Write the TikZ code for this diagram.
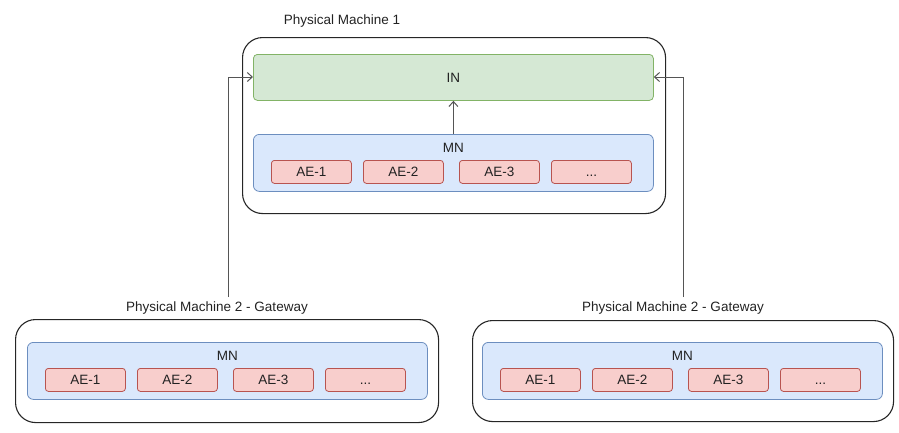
\documentclass[tikz,border=0pt]{standalone}
\usepackage{fontspec}
\setmainfont{Liberation Sans}
\usetikzlibrary{arrows.meta,positioning}
\definecolor{txt}{HTML}{222222}
\definecolor{ingreen}{HTML}{D5E8D4}
\definecolor{ingreenb}{HTML}{82B366}
\definecolor{mnblue}{HTML}{DAE8FC}
\definecolor{mnblueb}{HTML}{6C8EBF}
\definecolor{aered}{HTML}{F8CECC}
\definecolor{aeredb}{HTML}{B85450}
\definecolor{linec}{HTML}{555555}
\tikzset{
  machine/.style={draw=black!85, line width=1.1pt, rounded corners=20pt, anchor=north west, inner sep=0pt},
  inbox/.style={draw=ingreenb, fill=ingreen, line width=0.8pt, rounded corners=4pt, anchor=north west, inner sep=0pt, minimum width=400pt, minimum height=46pt},
  mnbox/.style={draw=mnblueb, fill=mnblue, line width=0.8pt, rounded corners=6pt, anchor=north west, inner sep=0pt, minimum width=400pt, minimum height=57pt},
  aebox/.style={draw=aeredb, fill=aered, line width=0.8pt, rounded corners=3pt, anchor=north west, inner sep=0pt, minimum width=80pt, minimum height=23pt, text height=9.7pt, text depth=0pt, font=\fontsize{13.5}{15}\selectfont, text=txt},
  lbl/.style={font=\fontsize{13.5}{15}\selectfont, text=txt, inner sep=0pt},
  conn/.style={draw=linec, line width=1pt, -{Straight Barb[length=5pt,width=9pt,line width=1pt]}},
}
\newcommand\mngroup[3]{% prefix, x, y
  \node[mnbox] (#1mn) at (#2,#3) {};
  \node[lbl] (#1mnl) at ([yshift=-14pt]#1mn.north) {MN};
  \node[aebox] (#1ae1) at (#2+18,#3+26) {AE-1};
  \node[aebox] (#1ae2) at (#2+110,#3+26) {AE-2};
  \node[aebox] (#1ae3) at (#2+206,#3+26) {AE-3};
  \node[aebox] (#1ae4) at (#2+298,#3+26) {...};
}
\begin{document}
\begin{tikzpicture}[x=1pt,y=-1pt]
\useasboundingbox (0,0) rectangle (899,432);
% top machine
\node[machine, minimum width=423pt, minimum height=176pt] (pm1) at (242,37) {};
\node[lbl] (pm1l) at (342,21) {Physical Machine 1};
\node[inbox] (in) at (253,54) {};
\node[lbl] (inl) at (in.center) {IN};
\mngroup{t}{253}{134}
\draw[conn] (tmn.north) -- (in.south);
% bottom left
\node[machine, minimum width=423pt, minimum height=103pt] (pm2) at (15,319) {};
\node[lbl] (pm2l) at (217,308) {Physical Machine 2 - Gateway};
\mngroup{l}{27}{342}
% bottom right
\node[machine, minimum width=421pt, minimum height=101pt] (pm3) at (472,320) {};
\node[lbl] (pm3l) at (673,308) {Physical Machine 2 - Gateway};
\mngroup{r}{482}{342}
% connectors
\coordinate (ls) at (228,297);
\coordinate (rs) at (683,297);
\draw[conn] (ls) |- (in.west |- 0,77);
\draw[conn] (rs) |- (in.east |- 0,77);
\end{tikzpicture}
\end{document}
